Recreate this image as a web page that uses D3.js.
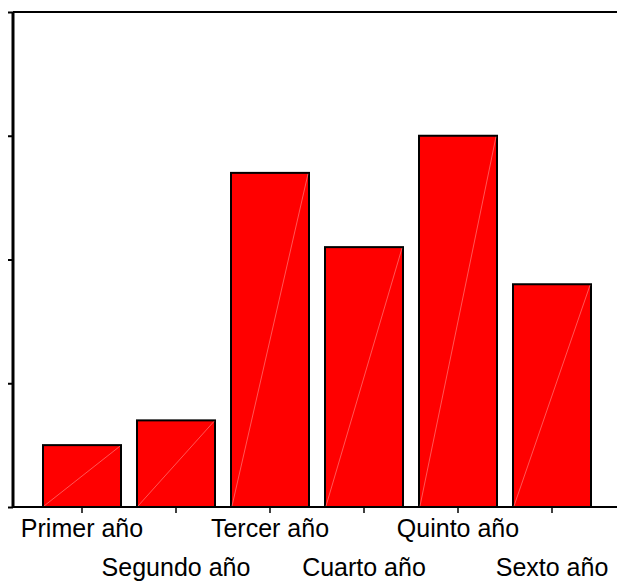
<!DOCTYPE html>
<html><head><meta charset="utf-8">
<script src="https://cdn.jsdelivr.net/npm/d3@7"></script>
<style>body{margin:0;background:#fff}svg{display:block}</style>
</head><body>
<script>
const categories = ["Primer año","Segundo año","Tercer año","Cuarto año","Quinto año","Sexto año"];
const values = [5, 7, 27, 21, 30, 18];
const yTicks = [0, 10, 20, 30, 40];

(function(){
const W = 617, H = 582;
const mLeft = 13, mTop = 12, mBottom = 507;
const svg = d3.select("body").append("svg").attr("width", W).attr("height", H);

const x = d3.scaleBand().domain(categories).range([35, 599]).paddingInner(16/94).paddingOuter(8/94);
const y = d3.scaleLinear().domain([0, 40]).range([mBottom, mTop]);

// bars
const g = svg.append("g");
g.selectAll("rect.bar").data(values).join("rect")
  .attr("class","bar")
  .attr("x", (d,i) => x(categories[i]))
  .attr("y", d => y(d))
  .attr("width", x.bandwidth())
  .attr("height", d => y(0) - y(d))
  .attr("fill", "#ff0000")
  .attr("stroke", "#000")
  .attr("stroke-width", 2);
// faint diagonal artifact
g.selectAll("line.diag").data(values).join("line")
  .attr("class","diag")
  .attr("x1", (d,i) => x(categories[i]) + 1)
  .attr("y1", y(0) - 1)
  .attr("x2", (d,i) => x(categories[i]) + x.bandwidth() - 1)
  .attr("y2", d => y(d) + 1)
  .attr("stroke", "#ff9090")
  .attr("stroke-width", 0.6);

// frame top line
svg.append("line").attr("x1", mLeft).attr("x2", W).attr("y1", mTop).attr("y2", mTop)
  .attr("stroke", "#000").attr("stroke-width", 2);

// y axis
const ya = svg.append("g").attr("transform", `translate(${mLeft},0)`)
  .call(d3.axisLeft(y).tickValues(yTicks).tickSize(5).tickFormat(""));
ya.select(".domain").attr("stroke-width", 3).attr("d", `M0,${mTop}V${mBottom+1}`);
ya.selectAll(".tick line").attr("stroke-width", 2);

// x axis
const xa = svg.append("g").attr("transform", `translate(0,${mBottom})`)
  .call(d3.axisBottom(x).tickSize(6).tickFormat(""));
xa.select(".domain").attr("stroke-width", 2).attr("d", `M${mLeft},0H${W}`);
xa.selectAll(".tick line").attr("stroke-width", 1.5);

// labels alternating rows
svg.append("g").selectAll("text").data(categories).join("text")
  .attr("x", d => x(d) + x.bandwidth()/2)
  .attr("y", (d,i) => i % 2 === 0 ? 537 : 576)
  .attr("text-anchor", "middle")
  .attr("font-family", "Liberation Sans, Arial, sans-serif")
  .attr("font-size", 25)
  .attr("fill", "#000")
  .text(d => d);
})();
</script>
</body></html>
